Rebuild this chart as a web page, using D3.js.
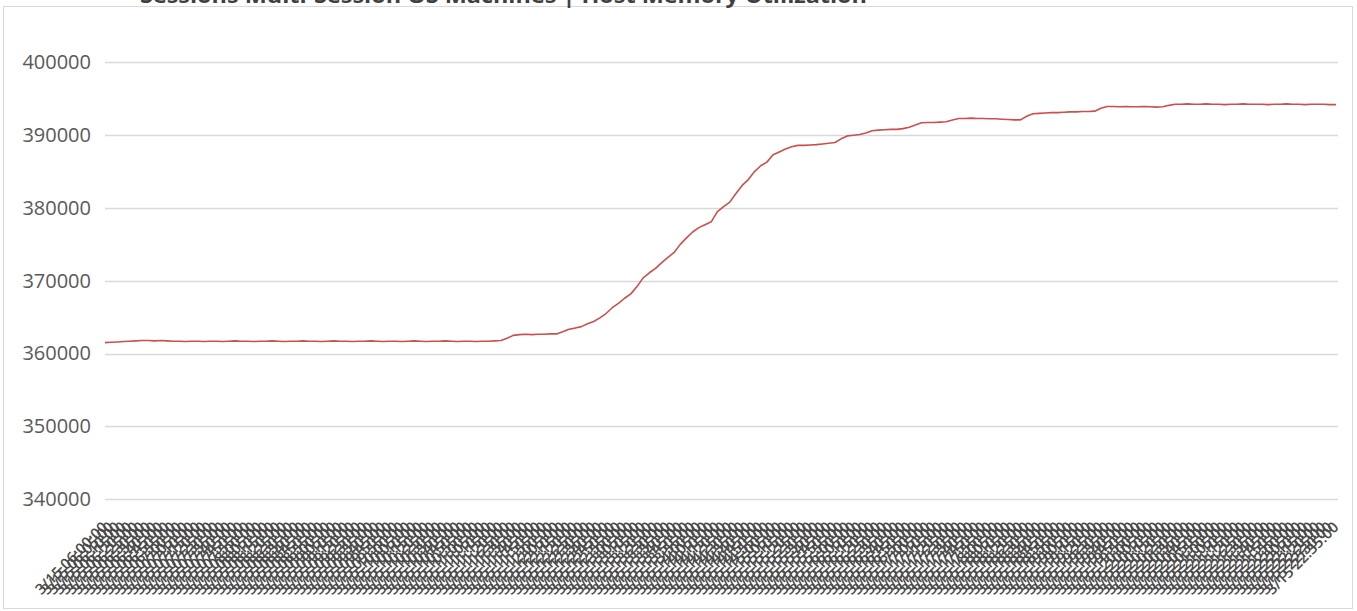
<!DOCTYPE html>
<html>
<head>
<meta charset="utf-8">
<script src="https://cdn.jsdelivr.net/npm/d3@7"></script>
<style>
  body { margin: 0; background: #fff; }
  svg { display: block; font-family: "Open Sans", "Noto Sans", sans-serif; }
</style>
</head>
<body>
<svg width="1357" height="611"></svg>
<script>
const chartTitle = "Sessions Multi-Session OS Machines | Host Memory Utilization";

// memory samples
const memoryValues = [
  361500,361550,361600,361650,361700,361750,361800,361800,361750,361800,361750,361700,361700,361650,361700,361700,
  361650,361700,361700,361650,361700,361750,361700,361700,361650,361700,361700,361750,361700,361650,361700,361700,
  361750,361700,361700,361650,361700,361750,361700,361700,361650,361700,361700,361750,361700,361650,361700,361700,
  361650,361700,361750,361700,361650,361700,361700,361750,361700,361650,361700,361700,361650,361700,361700,361750,
  361800,362100,362500,362600,362650,362600,362650,362650,362700,362700,
  363000,363350,363500,363700,364100,364400,364900,365500,366300,366900,
  367600,368200,369200,370400,371100,371700,372500,373200,373900,375000,
  375900,376700,377300,377700,378100,379500,380200,380800,382000,383100,
  383900,385000,385800,386300,387300,387700,388100,388400,388600,388600,
  388650,388700,388800,388900,389000,389500,389900,390000,390100,390300,
  390600,390700,390750,390800,390800,390900,391100,391400,391700,391750,
  391750,391800,391850,392100,392300,392300,392350,392300,392300,392250,
  392250,392200,392150,392100,392100,392600,392950,393000,393050,393100,
  393100,393150,393200,393200,393250,393250,393300,393700,393950,393950,
  393900,393950,393900,393900,393950,393900,393850,393900,394100,394250,
  394250,394300,394250,394250,394300,394250,394250,394200,394250,394250,394300,394250,394250,
  394250,394200,394250,394250,394300,394250,394250,394200,394250,394250,394250,394200,394200
];

const yTicks = [340000, 350000, 360000, 370000, 380000, 390000, 400000];

// sample times (5 minute interval)
const startTime = new Date(2021, 2, 15, 6, 0, 0);
const stepMinutes = 5;
const fmt = d3.timeFormat("%-m/%-d %H:%M:%S");
const categories = memoryValues.map((v, i) => fmt(new Date(startTime.getTime() + i * stepMinutes * 60000)));

const data = categories.map((c, i) => ({time: c, value: memoryValues[i]}));

const svg = d3.select("svg"),
      margin = {top: 26, right: 19, bottom: 90, left: 105},
      width = +svg.attr("width") - margin.left - margin.right,
      height = +svg.attr("height") - margin.top - margin.bottom,
      g = svg.append("g").attr("transform", `translate(${margin.left},${margin.top})`);

// chart border
svg.append("rect")
  .attr("x", 3.5).attr("y", 6.5)
  .attr("width", 1349).attr("height", 602)
  .attr("fill", "none")
  .attr("stroke", "#d9d9d9")
  .attr("stroke-width", 1);

svg.append("text")
  .attr("x", 140)
  .attr("y", 3)
  .attr("textLength", 727)
  .attr("lengthAdjust", "spacingAndGlyphs")
  .style("font-size", "22px")
  .style("font-weight", "700")
  .attr("fill", "#404040")
  .text(chartTitle);

const x = d3.scalePoint().domain(categories).range([0, width - 2]);
const y = d3.scaleLinear().domain([337000, 405000]).range([height, 0]);

// gridlines
g.append("g")
  .selectAll("line")
  .data(yTicks)
  .join("line")
  .attr("x1", 0)
  .attr("x2", width)
  .attr("y1", d => Math.round(y(d)) + 0.5)
  .attr("y2", d => Math.round(y(d)) + 0.5)
  .attr("stroke", "#d9d9d9")
  .attr("stroke-width", 1.5);

g.append("g")
  .call(d3.axisLeft(y).tickValues(yTicks).tickSize(0).tickPadding(14).tickFormat(d3.format("d")))
  .call(a => a.select(".domain").remove())
  .selectAll("text")
  .style("font-size", "20px")
  .style("font-family", "\"Open Sans\", \"Noto Sans\", sans-serif")
  .attr("fill", "#595959");

// category labels, rotated like the original (they pile up into a grey band)
g.append("g")
  .attr("transform", `translate(0,${height})`)
  .call(d3.axisBottom(x).tickSize(0).tickPadding(0))
  .call(a => a.select(".domain").remove())
  .selectAll("text")
  .style("font-size", "15px")
  .style("font-weight", "600")
  .style("font-family", "\"Open Sans\", \"Noto Sans\", sans-serif")
  .attr("fill", "#4a4a4a")
  .attr("text-anchor", "end")
  .attr("dy", "0.3em")
  .attr("transform", "translate(0,4) rotate(-45)");

const line = d3.line().x(d => x(d.time)).y(d => y(d.value));

g.append("path")
  .datum(data)
  .attr("fill", "none")
  .attr("stroke", "#c8504e")
  .attr("stroke-width", 1.6)
  .attr("stroke-linejoin", "round")
  .attr("d", line);
</script>
</body>
</html>
